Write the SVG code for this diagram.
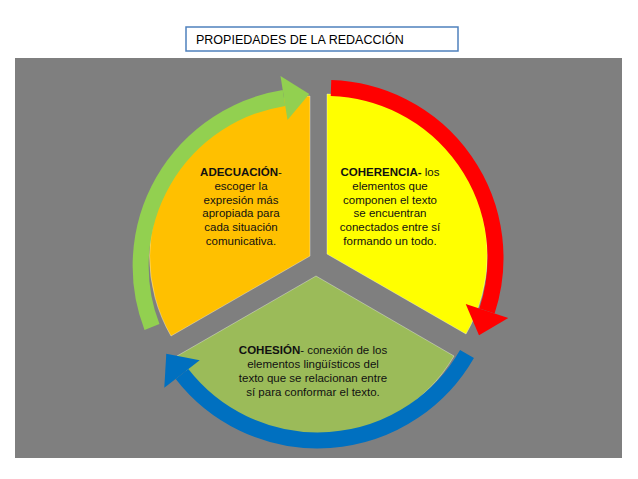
<svg xmlns="http://www.w3.org/2000/svg" width="638" height="479" viewBox="0 0 638 479">
<style>
.t{font-family:"Liberation Sans",Arial,sans-serif;font-size:11.5px;fill:#111;text-anchor:middle}
.b{font-weight:bold}
.arc{fill:none;stroke-width:16}
.sec{stroke:#fff;stroke-opacity:0.35;stroke-width:1}
</style>
<defs>
<marker id="mr" markerUnits="strokeWidth" markerWidth="2" markerHeight="3" viewBox="0 -1.5 1.7 3" refX="0" refY="0" orient="auto" overflow="visible"><path d="M0,-1.4 L1.6,0 L0,1.4 Z" fill="#ff0000"/></marker>
<marker id="mg" markerUnits="strokeWidth" markerWidth="2" markerHeight="3" viewBox="0 -1.5 1.7 3" refX="0" refY="0" orient="auto" overflow="visible"><path d="M0,-1.4 L1.6,0 L0,1.4 Z" fill="#92d050"/></marker>
<marker id="mb" markerUnits="strokeWidth" markerWidth="2" markerHeight="3" viewBox="0 -1.5 1.7 3" refX="0" refY="0" orient="auto" overflow="visible"><path d="M0,-1.4 L1.6,0 L0,1.4 Z" fill="#0070c0"/></marker>
</defs>
<rect width="638" height="479" fill="#fff"/>
<rect x="15" y="58" width="607" height="400" fill="#7f7f7f"/>
<g id="title">
<rect x="186" y="27" width="272" height="24" fill="#fff" stroke="#4f81bd" stroke-width="1.5"/>
<text x="196" y="44" style="font-family:'Liberation Sans',Arial,sans-serif;font-size:12.5px;fill:#000">PROPIEDADES DE LA REDACCIÓN</text>
</g>
<g id="coherencia">
<path class="sec" d="M327,254 L327,94 A160 160 0 0 1 466,334 Z" fill="#ffff00"/>
<text class="t" x="390" y="176"><tspan class="b">COHERENCIA-</tspan> los</text>
<text class="t" x="390" y="190">elementos que</text>
<text class="t" x="390" y="204">componen el texto</text>
<text class="t" x="390" y="217">se encuentran</text>
<text class="t" x="390" y="231">conectados entre sí</text>
<text class="t" x="390" y="245">formando un todo.</text>
</g>
<g id="adecuacion">
<path class="sec" d="M310,256 L171,336 A160 160 0 0 1 310,96 Z" fill="#ffc000"/>
<text class="t" x="241" y="176"><tspan class="b">ADECUACIÓN</tspan>-</text>
<text class="t" x="241" y="190">escoger  la</text>
<text class="t" x="241" y="204">expresión más</text>
<text class="t" x="241" y="217">apropiada para</text>
<text class="t" x="241" y="231">cada situación</text>
<text class="t" x="241" y="245">comunicativa.</text>
</g>
<g id="cohesion">
<path class="sec" d="M316,276 L454,356 A160 160 0 0 1 177,356 Z" fill="#9bbb59"/>
<text class="t" x="313" y="354"><tspan class="b">COHESIÓN</tspan>- conexión de los</text>
<text class="t" x="313" y="368">elementos lingüísticos del</text>
<text class="t" x="313" y="382">texto que se relacionan entre</text>
<text class="t" x="313" y="396">sí para conformar el texto.</text>
</g>
<g id="connectors">
<path class="arc" stroke="#ff0000" marker-end="url(#mr)" d="M331,88 A170 170 0 0 1 487,311"/>
<path class="arc" stroke="#92d050" marker-end="url(#mg)" d="M152,327 A170 170 0 0 1 284,98"/>
<path class="arc" stroke="#0070c0" marker-end="url(#mb)" d="M467,354 A172 172 0 0 1 182,374"/>
</g>
</svg>
